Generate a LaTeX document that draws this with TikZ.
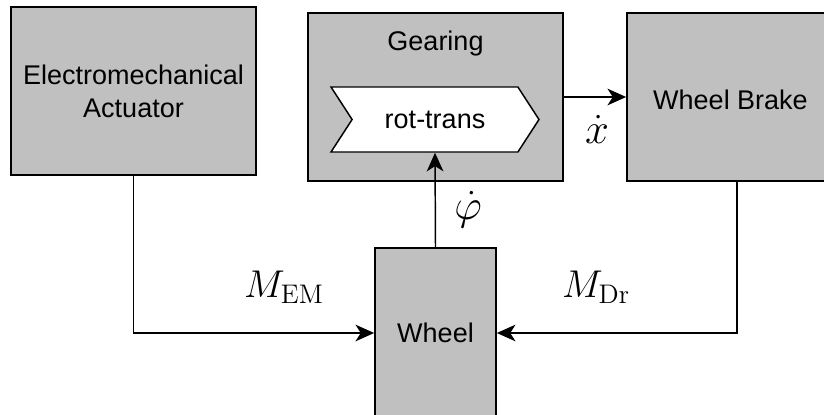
\documentclass[tikz,border=0pt]{standalone}
\usepackage[no-math]{fontspec}
\usepackage{graphicx}
\setmainfont{Liberation Sans}
\usetikzlibrary{arrows.meta,shapes.symbols}
\definecolor{boxgray}{HTML}{C0C0C0}
\newcommand{\bigmath}[2][1.4]{\scalebox{#1}{\fontsize{20}{24}\selectfont$#2$}}
\begin{document}
\begin{tikzpicture}[x=0.75pt,y=-0.75pt,
  blk/.style={draw=black,line width=1.3pt,fill=boxgray,inner sep=0pt,align=center,
    font=\fontsize{20.25}{24.75}\selectfont},
  conn/.style={line width=1.1pt,-{Stealth[length=14pt,width=12.5pt,inset=4pt]}},
  mlab/.style={inner sep=0pt}]
\useasboundingbox (0,0) rectangle (824,414);
\begin{scope}
\clip (0,0) rectangle (824,414);
\node[blk,minimum width=245*0.75pt,minimum height=168*0.75pt] (act) at (133.5,91) {Electromechanical\\Actuator};
\node[blk,minimum width=255*0.75pt,minimum height=168*0.75pt] (gear) at (435.5,97) {};
\node[font=\fontsize{20.25}{24.75}\selectfont,inner sep=0pt] (geartxt) at (435.5,44) {Gearing};
\node[signal,signal to=east,signal from=west,signal pointer angle=114,draw=black,line width=1.1pt,fill=white,
  inner sep=0pt,minimum width=208*0.75pt,minimum height=65*0.75pt,font=\fontsize{20.25}{24.75}\selectfont] (rt) at (435,119.5) {rot-trans};
\node[blk,minimum width=220*0.75pt,minimum height=168*0.75pt] (brake) at (737,97) {};
\node[font=\fontsize{20.25}{24.75}\selectfont,inner sep=0pt] (braketxt) at (730.5,100) {Wheel Brake};
\node[blk,minimum width=121*0.75pt,minimum height=170*0.75pt] (wheel) at (435.5,333) {Wheel};
\end{scope}
\draw[conn] (act.south) |- (wheel.west);
\draw[conn] (brake.south) |- (wheel.east);
\draw[conn] (wheel.north) -- (rt.south);
\draw[conn] (gear.east) -- (brake.west);
\node[mlab] (mem) at (284,287) {\bigmath{M_{\mathrm{EM}}}};
\node[mlab] (mdr) at (596,287) {\bigmath{M_{\mathrm{Dr}}}};
\node[mlab] (phid) at (468,210) {\bigmath[1.55]{\dot{\varphi}}};
\node[mlab] (xd) at (597,129) {\bigmath[1.55]{\dot{x}}};
\end{tikzpicture}
\end{document}
